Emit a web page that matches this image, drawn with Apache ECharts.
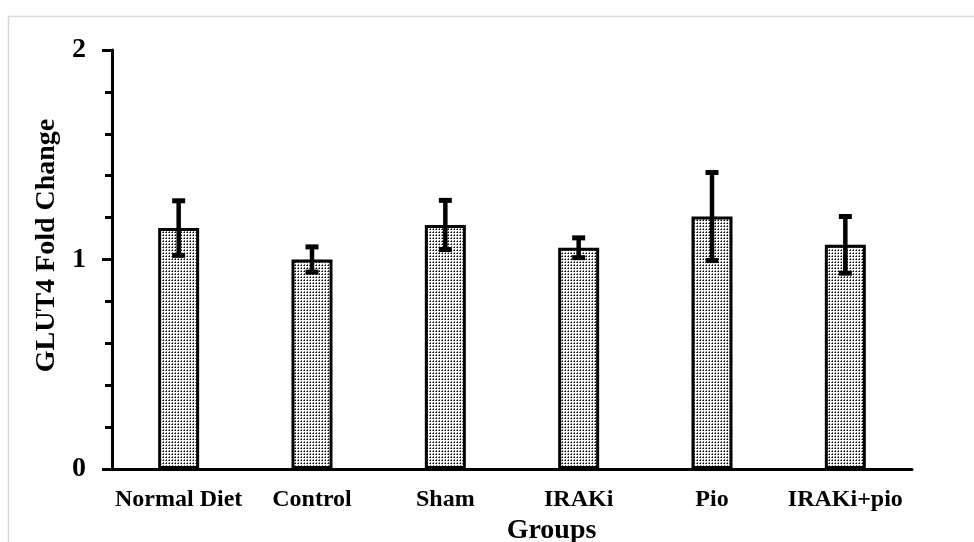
<!DOCTYPE html>
<html>
<head>
<meta charset="utf-8">
<script src="https://cdn.jsdelivr.net/npm/echarts@6/dist/echarts.min.js"></script>
<style>
  html, body { margin: 0; padding: 0; background: #fff; }
  #main { width: 974px; height: 542px; }
</style>
</head>
<body>
<div id="main"></div>
<script>
// GLUT4 fold change per group
var groups = ['Normal Diet', 'Control', 'Sham', 'IRAKi', 'Pio', 'IRAKi+pio']
var foldChange = [1.15, 1.0, 1.165, 1.056, 1.205, 1.07]
var errUp = [0.135, 0.065, 0.122, 0.052, 0.215, 0.14] // +/- error
var yTicks = [0, 1, 2]

var serif = '"Liberation Serif", "Times New Roman", serif'

// dotted fill like the excel pattern
function dotPattern() {
  var c = document.createElement('canvas')
  c.width = 3
  c.height = 3
  var ctx = c.getContext('2d')
  ctx.fillStyle = '#ffffff'
  ctx.fillRect(0, 0, 3, 3)
  ctx.fillStyle = '#707070'
  ctx.fillRect(1, 0, 1, 1)
  ctx.fillRect(0, 1, 1, 1)
  ctx.fillStyle = '#000000'
  ctx.fillRect(1, 1, 1, 1)
  return c
}

var errData = groups.map(function (g, i) {
  return [i, foldChange[i] - errUp[i], foldChange[i] + errUp[i]]
})

var chart = echarts.init(document.getElementById('main'))
var option = {
  animation: false,
  backgroundColor: '#fff',
  grid: { left: 112, right: 62, top: 50, bottom: 73, outerBoundsMode: 'none' },
  graphic: [{
    type: 'rect',
    shape: { x: 8.5, y: 16.5, width: 1000, height: 600 },
    style: { fill: 'none', stroke: '#d9d9d9', lineWidth: 1.5 },
    silent: true
  }],
  xAxis: {
    type: 'category',
    data: groups,
    name: 'Groups',
    nameLocation: 'middle',
    nameGap: 47,
    nameTextStyle: {
      fontFamily: serif, fontWeight: 'bold', fontSize: 28, color: '#000',
      padding: [0, 0, 0, 79]
    },
    axisLine: { lineStyle: { color: '#000', width: 3 } },
    axisTick: { show: false },
    axisLabel: {
      interval: 0,
      fontFamily: serif, fontWeight: 'bold', fontSize: 24, color: '#000', margin: 19
    }
  },
  yAxis: {
    type: 'value',
    min: 0,
    max: 2,
    interval: 1,
    name: 'GLUT4 Fold Change',
    nameLocation: 'middle',
    nameGap: 50,
    nameTextStyle: {
      fontFamily: serif, fontWeight: 'bold', fontSize: 28, color: '#000',
      padding: [0, 0, 0, 28]
    },
    axisLine: { show: true, lineStyle: { color: '#000', width: 3 } },
    axisTick: { show: true, length: 10, lineStyle: { color: '#000', width: 3 } },
    minorTick: { show: true, splitNumber: 5, length: 7, lineStyle: { color: '#000', width: 3 } },
    splitLine: { show: false },
    axisLabel: {
      fontFamily: serif, fontWeight: 'bold', fontSize: 28, color: '#000', margin: 26,
      formatter: function (v) { return yTicks.indexOf(v) >= 0 ? String(v) : '' }
    }
  },
  series: [
    {
      type: 'bar',
      data: foldChange,
      barWidth: 41,
      itemStyle: {
        color: { image: dotPattern(), repeat: 'repeat' },
        borderColor: '#000',
        borderWidth: 3
      }
    },
    {
      type: 'custom',
      data: errData,
      z: 10,
      renderItem: function (params, api) {
        var x = api.coord([api.value(0), 0])[0]
        var lo = api.coord([api.value(0), api.value(1)])[1]
        var hi = api.coord([api.value(0), api.value(2)])[1]
        return {
          type: 'group',
          children: [
            { type: 'rect', shape: { x: x - 2.25, y: hi, width: 4.5, height: lo - hi }, style: { fill: '#000' } },
            { type: 'rect', shape: { x: x - 6.5, y: hi - 1.5, width: 13, height: 5 }, style: { fill: '#000' } },
            { type: 'rect', shape: { x: x - 6.5, y: lo - 3.5, width: 13, height: 5 }, style: { fill: '#000' } }
          ]
        }
      }
    }
  ]
}
chart.setOption(option)
window.addEventListener('resize', function () {
  chart.resize()
})
</script>
</body>
</html>
